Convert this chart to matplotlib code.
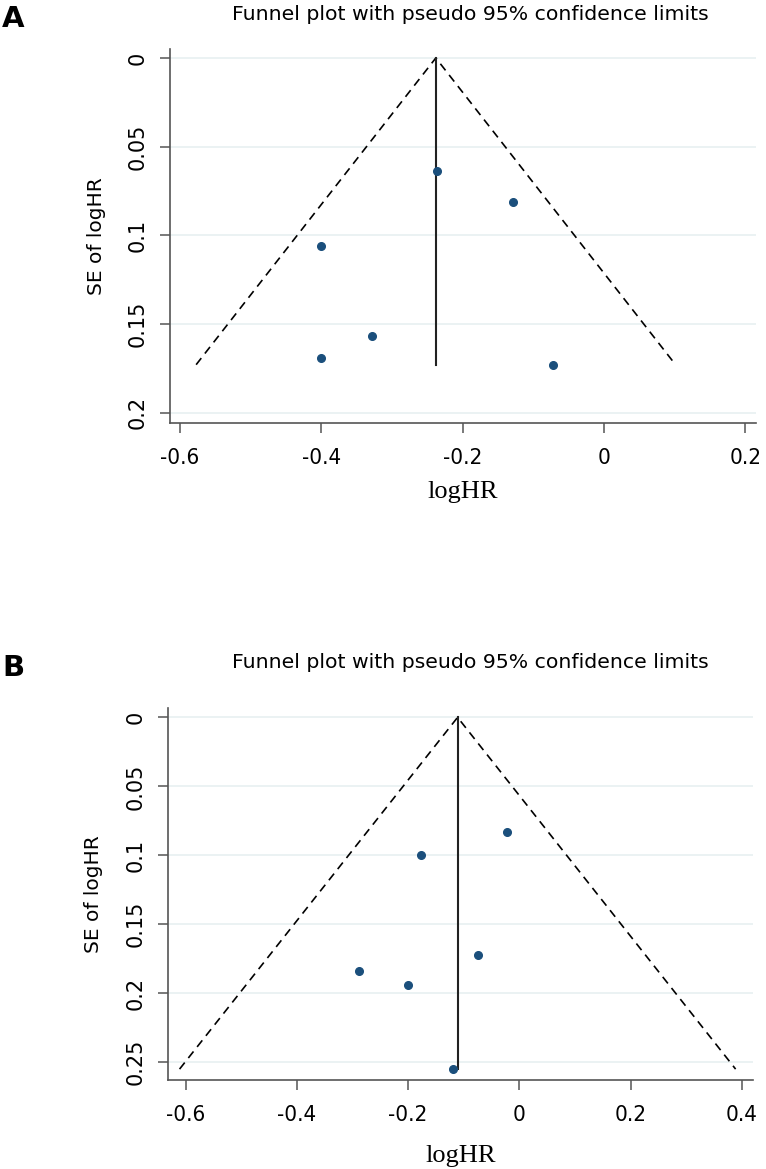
import matplotlib
matplotlib.use("Agg")
import matplotlib.pyplot as plt

# panel A
a_loghr = [-0.236, -0.129, -0.400, -0.328, -0.400, -0.072]
a_se = [0.064, 0.081, 0.106, 0.157, 0.169, 0.173]
a_pooled = -0.238
a_xticks = [-0.6, -0.4, -0.2, 0, 0.2]
a_xlabels = ["-0.6", "-0.4", "-0.2", "0", "0.2"]
a_yticks = [0, 0.05, 0.1, 0.15, 0.2]
a_ylabels = ["0", "0.05", "0.1", "0.15", "0.2"]

# panel B
b_loghr = [-0.176, -0.023, -0.289, -0.201, -0.075, -0.120]
b_se = [0.100, 0.083, 0.184, 0.194, 0.172, 0.255]
b_pooled = -0.111
b_xticks = [-0.6, -0.4, -0.2, 0, 0.2, 0.4]
b_xlabels = ["-0.6", "-0.4", "-0.2", "0", "0.2", "0.4"]
b_yticks = [0, 0.05, 0.1, 0.15, 0.2, 0.25]
b_ylabels = ["0", "0.05", "0.1", "0.15", "0.2", "0.25"]

title = "Funnel plot with pseudo 95% confidence limits"
dot_color = "#1b4f7c"
axis_color = "#555555"
grid_color = "#e8f0f1"


def funnel(ax, loghr, se, pooled, xticks, xlabels, yticks, ylabels, xlim, ylim,
           xpad=9):
    top = max(se)
    half = 1.96 * top
    ax.set_xlim(xlim)
    ax.set_ylim(ylim)

    for t in yticks:
        ax.axhline(t, color=grid_color, lw=1.2, zorder=0)

    ax.plot([pooled - half, pooled, pooled + half], [top, 0, top],
            color="black", lw=1.2, dashes=(5, 3.5), zorder=2)
    ax.plot([pooled, pooled], [0, top], color="#222222", lw=1.5, zorder=2)
    ax.plot(loghr, se, "o", color=dot_color, ms=5.5, zorder=3)

    for s in ["top", "right"]:
        ax.spines[s].set_visible(False)
    for s in ["left", "bottom"]:
        ax.spines[s].set_color(axis_color)
        ax.spines[s].set_linewidth(1.2)

    ax.set_xticks(xticks)
    ax.set_xticklabels(xlabels, family="DejaVu Sans", fontstretch="condensed",
                       fontsize=16)
    ax.set_yticks(yticks)
    ax.set_yticklabels(ylabels, rotation=90, va="center", fontsize=15,
                       family="DejaVu Sans")
    ax.tick_params(axis="x", length=7, width=1.1, color=axis_color, pad=11)
    ax.tick_params(axis="y", length=7, width=1.1, color=axis_color, pad=9)

    ax.set_xlabel("logHR", family=["Liberation Serif", "DejaVu Serif"],
                  fontsize=19, labelpad=xpad)
    ax.set_ylabel("SE of logHR", fontsize=14.5, labelpad=16)


fig = plt.figure(figsize=(7.66, 11.69), dpi=100)

ax1 = fig.add_axes([0.222, 0.638, 0.765, 0.320])
funnel(ax1, a_loghr, a_se, a_pooled, a_xticks, a_xlabels, a_yticks, a_ylabels,
       (-0.614, 0.215), (0.206, -0.005), xpad=9)

ax2 = fig.add_axes([0.219, 0.076, 0.764, 0.318])
funnel(ax2, b_loghr, b_se, b_pooled, b_xticks, b_xlabels, b_yticks, b_ylabels,
       (-0.632, 0.420), (0.263, -0.0065), xpad=14)

fig.text(470 / 766, 1 - 14 / 1169, title, ha="center", va="center", fontsize=14.7)
fig.text(470 / 766, 1 - 663 / 1169, title, ha="center", va="center", fontsize=14.7)
fig.text(0.003, 1 - 19 / 1169, "A", fontsize=21, fontweight="bold", va="center")
fig.text(0.003, 1 - 668 / 1169, "B", fontsize=21, fontweight="bold", va="center")

fig.savefig("out.png", dpi=100)
